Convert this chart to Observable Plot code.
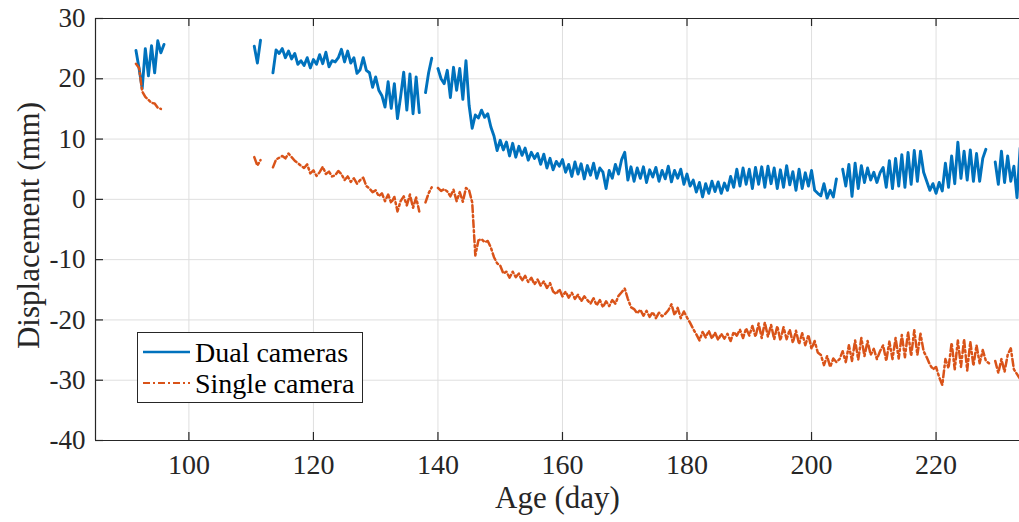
<!DOCTYPE html>
<html><head><meta charset="utf-8">
<script src="https://cdn.jsdelivr.net/npm/d3@7"></script>
<script src="https://cdn.jsdelivr.net/npm/@observablehq/plot@0.6"></script>
<style>
body{margin:0;background:#fff;}
#wrap{position:relative;width:1019px;height:522px;overflow:hidden;}
#legend{position:absolute;left:137px;top:332px;}
</style></head>
<body><div id="wrap"></div>
<script>
// sampling of the time series (Age in days)
const dayStart = 91.5;
const dayStep = 0.5;

// Dual cameras displacement (mm), one value every half day, null = no data
const dualValues = [
  24.7, 21.7, 18.4, 25.0, 20.5, 25.5, 21.0, 26.3, 24.3, 25.7,
  null, null, null, null, null, null, null, null, null, null,
  null, null, null, null, null, null, null, null, null, null,
  null, null, null, null, null, null, null, null, 25.4, 22.6,
  26.4, null, null, null, 21.0, 24.8, 24.2, 25.0, 23.5, 24.6,
  23.3, 24.2, 22.4, 23.0, 22.2, 23.5, 21.8, 23.2, 22.4, 24.0,
  22.5, 24.4, 22.0, 23.0, 22.8, 23.5, 24.9, 22.8, 24.6, 22.6,
  23.5, 20.9, 21.5, 23.5, 21.4, 21.0, 18.6, 20.3, 18.1, 17.2,
  15.3, 19.5, 15.1, 19.2, 13.4, 17.0, 21.1, 14.8, 20.8, 14.2,
  20.3, 14.4, null, 17.7, 21.0, 23.4, null, 21.7, 20.0, 19.2,
  21.4, 16.9, 21.9, 18.1, 21.7, 16.6, 23.0, 15.6, 11.8, 14.0,
  13.5, 14.8, 13.6, 14.2, 12.0, 10.5, 8.1, 9.8, 8.2, 9.5,
  7.2, 9.3, 7.0, 8.8, 7.3, 8.5, 6.5, 7.8, 6.8, 7.6,
  5.8, 7.5, 5.2, 6.8, 4.9, 6.3, 5.5, 6.6, 4.5, 5.8,
  3.8, 6.2, 4.2, 5.9, 3.4, 5.6, 4.0, 6.0, 3.5, 5.2,
  4.5, 1.8, 4.8, 3.5, 5.8, 4.2, 6.6, 7.8, 3.2, 5.4,
  3.0, 5.2, 3.5, 5.4, 2.8, 4.9, 3.7, 5.3, 3.0, 4.8,
  3.4, 5.5, 2.9, 4.8, 3.5, 5.0, 2.5, 4.2, 2.2, 3.2,
  1.2, 2.8, 0.4, 2.6, 1.0, 3.0, 1.3, 2.9, 1.0, 2.7,
  1.5, 3.8, 2.0, 5.0, 2.2, 5.2, 2.5, 5.0, 1.8, 5.3,
  2.5, 5.4, 2.0, 5.5, 2.6, 5.2, 1.8, 4.9, 2.0, 5.6,
  2.4, 4.6, 1.5, 5.0, 1.8, 4.4, 2.2, 4.8, 1.5, 1.0,
  0.6, 2.6, 0.2, 1.5, 0.4, 3.4, null, 5.0, 2.2, 5.8,
  0.5, 6.0, 1.8, 5.6, 2.8, 5.2, 3.2, 4.5, 2.8, 4.4,
  5.3, 2.0, 6.4, 1.8, 6.8, 2.2, 7.4, 2.0, 7.8, 2.5,
  8.1, 3.0, 8.0, 4.5, 3.0, 1.5, 2.6, 1.0, 2.8, 1.4,
  6.0, 2.0, 7.2, 2.6, 9.5, 3.5, 8.0, 3.2, 8.2, 3.0,
  7.6, 3.0, 6.8, 8.3, null, null, 6.2, 2.5, 8.0, 2.8,
  7.2, 3.0, 5.5, 0.3, 8.5
];

// Single camera displacement (mm), same sampling
const singleValues = [
  22.5, 21.8, 17.9, 17.0, 16.5, 16.0, 15.9, 15.2, 15.0, null,
  null, null, null, null, null, null, null, null, null, null,
  null, null, null, null, null, null, null, null, null, null,
  null, null, null, null, null, null, null, null, 7.0, 5.6,
  6.5, null, null, null, 5.3, 6.6, 6.9, 7.2, 6.8, 7.6,
  7.0, 6.4, 6.0, 5.6, 5.2, 5.8, 4.3, 4.8, 3.9, 4.5,
  5.4, 4.2, 4.6, 3.8, 4.0, 4.7, 4.2, 3.2, 3.8, 2.9,
  3.5, 2.6, 3.2, 3.6, 2.2, 1.8, 1.2, 1.5, 0.5, 1.0,
  -0.3, 0.8, -0.6, 0.4, -2.0, -0.3, 0.5, -1.0, 0.8, -1.4,
  0.3, -2.0, null, -0.5, 1.0, 2.0, null, 1.9, 1.4, 1.7,
  1.3, 0.5, 1.6, -0.3, 1.2, -0.4, 1.9, 1.5, -0.5, -9.3,
  -6.8, -6.6, -7.1, -6.9, -8.0, -9.6, -10.6, -11.0, -12.3, -12.0,
  -13.0, -12.0, -12.9, -12.3, -13.5, -12.7, -13.7, -13.0, -14.1, -13.3,
  -14.3, -13.6, -14.7, -13.9, -15.3, -15.7, -14.9, -16.1, -15.3, -16.3,
  -15.5, -16.5, -15.8, -16.9, -16.1, -16.7, -17.3, -16.4, -17.6, -16.7,
  -17.9, -16.9, -17.7, -16.7, -17.3, -16.0, -15.4, -14.8, -16.5, -17.9,
  -18.2, -18.9, -18.3, -19.3, -18.5, -19.5, -18.7, -19.7, -18.8, -19.4,
  -19.0, -18.4, -17.4, -19.2, -18.0, -19.7, -18.6, -19.6, -20.5, -21.5,
  -22.4, -23.4, -22.0, -22.9, -21.8, -23.1, -22.1, -23.3, -22.3, -23.1,
  -22.3, -23.5, -22.0, -22.6, -21.6, -23.0, -21.4, -22.6, -21.0, -22.8,
  -20.6, -23.0, -20.4, -22.8, -20.8, -23.2, -21.0, -23.4, -21.2, -23.2,
  -21.6, -23.8, -21.8, -24.0, -22.2, -24.2, -22.5, -24.8, -23.5, -25.4,
  -25.8, -27.5, -26.0, -27.8, -26.4, -27.0, -26.5, -25.2, -27.0, -24.2,
  -26.8, -23.4, -26.6, -23.0, -26.0, -23.5, -25.8, -24.8, -26.5, -25.2,
  -24.2, -26.8, -23.6, -26.5, -23.0, -26.4, -22.5, -26.2, -22.0, -26.0,
  -21.7, -25.8, -22.3, -25.2, -26.2, -27.4, -28.2, -27.8, -29.5, -30.8,
  -26.5, -28.0, -23.8, -28.2, -23.4, -27.8, -23.2, -28.4, -23.6, -27.6,
  -24.2, -27.2, -25.0, -26.8, -27.2, null, -26.8, -28.8, -26.5, -28.6,
  -25.8, -24.7, -28.2, -29.0, -29.8
];

const seriesNames = ["Dual cameras", "Single camera"];
const xTicks = [100, 120, 140, 160, 180, 200, 220];
const yTicks = [-40, -30, -20, -10, 0, 10, 20, 30];
const xDomain = [85, 233.4];
const yDomain = [-40, 30];

const blue = "#0072BD", orange = "#D95319", axisColor = "#262626";
const toRows = vals => vals.map((v, i) => ({day: dayStart + i * dayStep, v}));
const dual = toRows(dualValues);
const single = toRows(singleValues);

const W = 1019, H = 522, mL = 95, mR = 0, mT = 18, mB = 82;
const fw = W - mL - mR, fh = H - mT - mB, tk = 8;

const chart = Plot.plot({
  width: W, height: H,
  marginLeft: mL, marginRight: mR, marginTop: mT, marginBottom: mB,
  style: {fontFamily: "'Liberation Serif', 'Times New Roman', serif", color: axisColor, background: "#fff", overflow: "visible"},
  x: {domain: xDomain},
  y: {domain: yDomain},
  marks: [
    Plot.gridX(xTicks, {stroke: "#dfdfdf", strokeOpacity: 1, strokeWidth: 1}),
    Plot.gridY(yTicks, {stroke: "#dfdfdf", strokeOpacity: 1, strokeWidth: 1}),
    Plot.line(dual, {x: "day", y: "v", stroke: blue, strokeWidth: 2.9, clip: true}),
    Plot.line(single, {x: "day", y: "v", stroke: orange, strokeWidth: 2.5, strokeDasharray: "7,3,2,3", clip: true}),
    // box
    Plot.ruleY([yDomain[0]], {stroke: axisColor, strokeWidth: 1.2}),
    Plot.ruleY([yDomain[1]], {stroke: axisColor, strokeWidth: 1.2}),
    Plot.ruleX([xDomain[0]], {stroke: axisColor, strokeWidth: 1.2}),
    // inward ticks
    Plot.tickX(xTicks, {x: d => d, stroke: axisColor, strokeWidth: 1.2, insetTop: fh - tk}),
    Plot.tickX(xTicks, {x: d => d, stroke: axisColor, strokeWidth: 1.2, insetBottom: fh - tk}),
    Plot.tickY(yTicks, {y: d => d, stroke: axisColor, strokeWidth: 1.2, insetRight: fw - tk}),
    Plot.axisX(xTicks, {tickSize: 0, tickPadding: 14, fontSize: 28, label: null, tickFormat: d => String(d)}),
    Plot.axisY(yTicks, {tickSize: 0, tickPadding: 10, fontSize: 27, label: null, tickFormat: d => String(d)}),
    Plot.text(["Age (day)"], {frameAnchor: "bottom", dy: 58, lineAnchor: "middle", fontSize: 31, fill: axisColor}),
    Plot.text(["Displacement (mm)"], {frameAnchor: "left", dx: -66, dy: -4, rotate: -90, textAnchor: "middle", lineAnchor: "middle", fontSize: 31, fill: axisColor})
  ]
});

const wrap = document.getElementById("wrap");
wrap.appendChild(chart);

// legend box inside plot area
const ns = "http://www.w3.org/2000/svg";
const lg = document.createElementNS(ns, "svg");
lg.setAttribute("id", "legend");
lg.setAttribute("width", 226);
lg.setAttribute("height", 71);
lg.innerHTML = `
  <rect x="0.5" y="0.5" width="225" height="70" fill="#fff" stroke="${axisColor}" stroke-width="1"/>
  <line x1="6" x2="53" y1="20" y2="20" stroke="${blue}" stroke-width="2.6"/>
  <line x1="6" x2="53" y1="51" y2="51" stroke="${orange}" stroke-width="2.2" stroke-dasharray="7,3,2,3"/>
  <text x="58" y="20" dy="0.35em" font-family="'Liberation Serif', serif" font-size="28" fill="#000">${seriesNames[0]}</text>
  <text x="58" y="51" dy="0.35em" font-family="'Liberation Serif', serif" font-size="28" fill="#000">${seriesNames[1]}</text>`;
wrap.appendChild(lg);
</script>
</body></html>
